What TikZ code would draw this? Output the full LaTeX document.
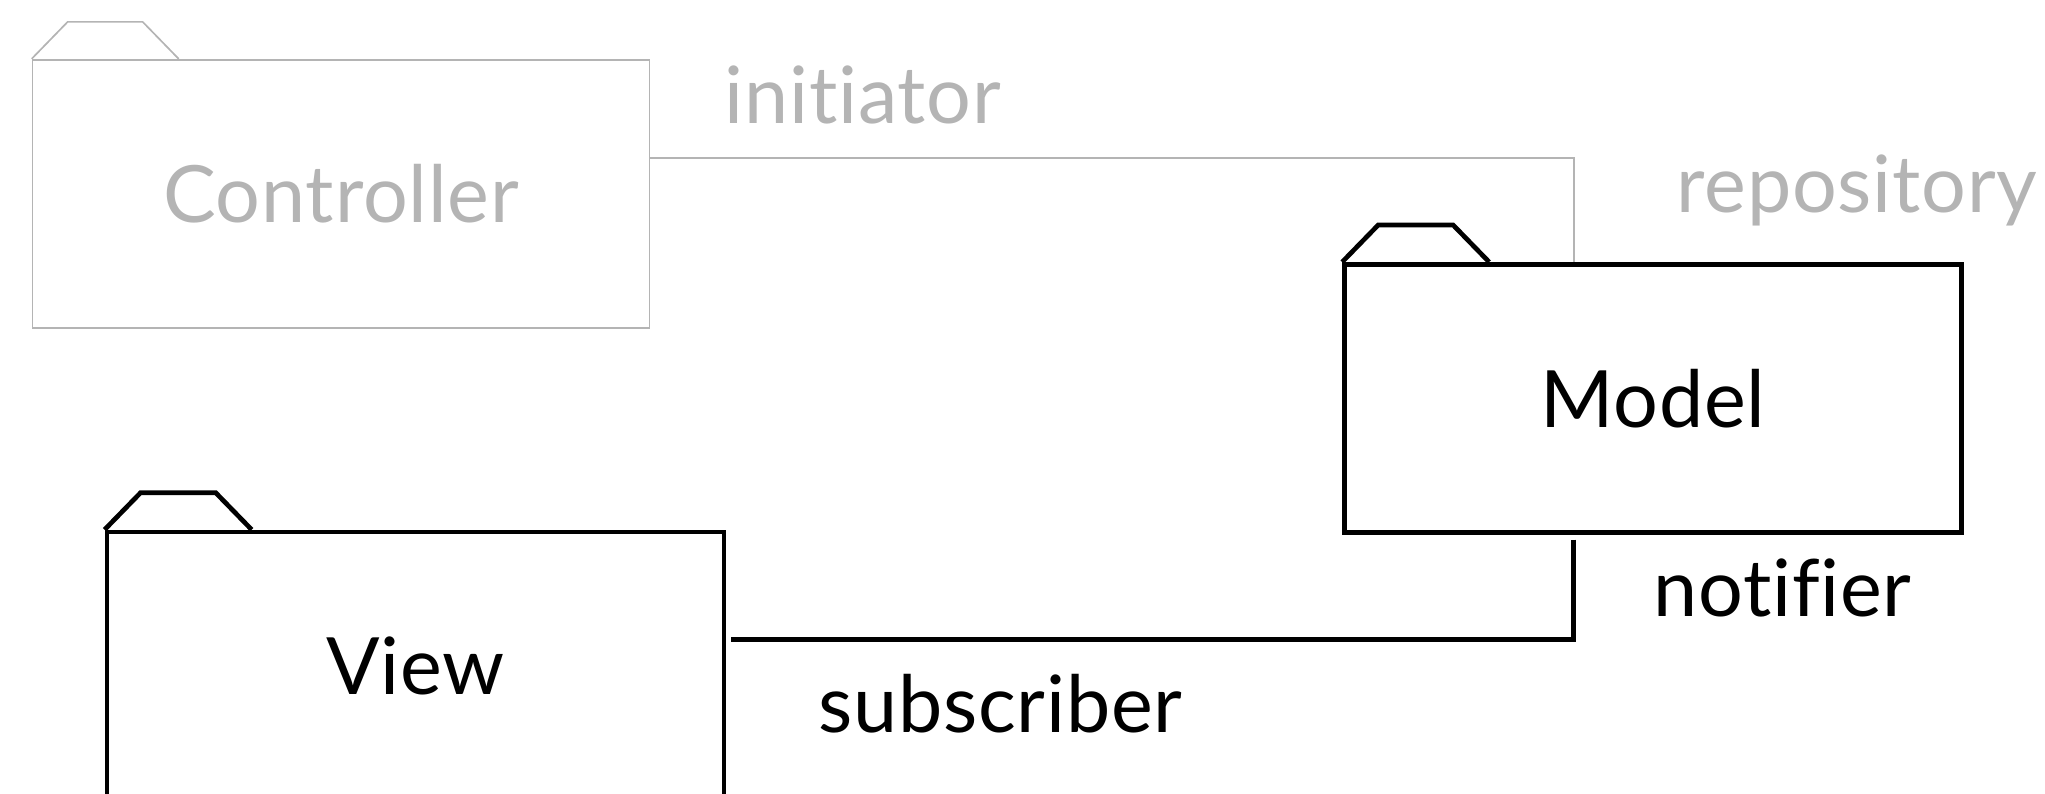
\documentclass[tikz,border=0pt]{standalone}
\usepackage{fontspec}
\setmainfont{Lato}[Ligatures={NoCommon,NoContextual,NoRare}, LetterSpace=1]
\usepackage{xcolor}
\definecolor{mvcgray}{RGB}{180,180,180}
\definecolor{mvcblack}{RGB}{0,0,0}
\usetikzlibrary{calc}

\begin{document}
\begin{tikzpicture}[x=0.1mm, y=-0.1mm,
  pkg/.style={draw, rectangle, minimum width=61.7mm, minimum height=26.8mm,
    inner sep=0pt, font=\fontsize{22.5}{27}\selectfont},
  faded/.style={mvcgray, line width=0.48pt},
  active/.style={mvcblack, line width=1.34pt},
  role/.style={anchor=base, inner sep=0pt, font=\fontsize{22.5}{27}\selectfont}]

  \clip (0,0) rectangle (2045,793);

  % Controller package (faded)
  \node[pkg, faded] (ctrl) at (341,193.7) {Controller};
  \draw[faded] (ctrl.north west) -- ++(36,-37) -- ++(75,0) -- ++(36,37);

  % Model package
  \node[pkg, active] (model) at (1653,398.4) {Model};
  \draw[active] (model.north west) -- ++(36,-37) -- ++(75,0) -- ++(36,37);

  % View package (cut by the bottom edge)
  \node[pkg, active] (view) at (415.5,666) {View};
  \draw[active] (view.north west) -- ++(36,-37) -- ++(75,0) -- ++(36,37);

  % Controller -> Model
  \coordinate (ctrlport) at ($(ctrl.north east)+(0,99)$);
  \coordinate (modelin) at ($(model.north west)+(232,0)$);
  \draw[faded] (ctrlport) -| (modelin);
  \node[role, mvcgray] (initiator) at (863,123) {initiator};
  \node[role, mvcgray] (repository) at (1857,212) {repository};

  % Model -> View
  \coordinate (modelout) at ($(model.south west)+(231,0)$);
  \coordinate (viewin) at ($(view.north east)+(0,110)$);
  \draw[active, shorten <=1.4pt, shorten >=1.4pt] (modelout) |- (viewin);
  \node[role, mvcblack] (notifier) at (1782.5,616) {notifier};
  \node[role, mvcblack] (subscriber) at (1000.5,732) {subscriber};
\end{tikzpicture}
\end{document}
